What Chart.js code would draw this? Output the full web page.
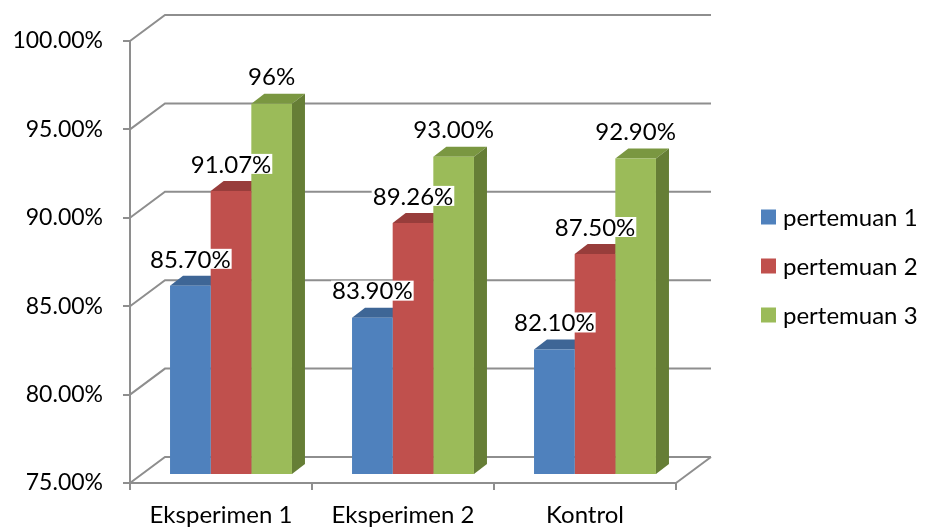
<!DOCTYPE html>
<html>
<head>
<meta charset="utf-8">
<script src="https://cdn.jsdelivr.net/npm/chart.js@4"></script>
<style>
  html, body { margin: 0; padding: 0; background: #ffffff; }
  canvas { display: block; }
</style>
</head>
<body>
<canvas id="c" width="925" height="529"></canvas>
<script>
// ---- data ----
const categories = ['Eksperimen 1', 'Eksperimen 2', 'Kontrol'];
const seriesNames = ['pertemuan 1', 'pertemuan 2', 'pertemuan 3'];
const pertemuan1 = [85.70, 83.90, 82.10];
const pertemuan2 = [91.07, 89.26, 87.50];
const pertemuan3 = [96.00, 93.00, 92.90];
const valueLabels1 = ['85.70%', '83.90%', '82.10%'];
const valueLabels2 = ['91.07%', '89.26%', '87.50%'];
const valueLabels3 = ['96%', '93.00%', '92.90%'];
const yTickValues = [75, 80, 85, 90, 95, 100];

// ---- styling ----
const FONT = 'Lato, "Open Sans", sans-serif';
const FONT_SIZE = 23;
const LABEL_SIZE = 24;
const GRID = '#8e8e8e';
const WALL = { x: 35, y: -26 };   // back wall offset
const BAR_SHIFT = { x: 10, y: -8 }; // bars sit a little inside the floor
const BAR_DEPTH = { x: 13, y: -10 };

const seriesStyle = [
  { front: '#4f81bd', top: '#3e6696', side: '#34557e' },
  { front: '#c0504d', top: '#983d3b', side: '#7f3331' },
  { front: '#9bbb59', top: '#7a9741', side: '#667e36' }
];
const seriesValues = [pertemuan1, pertemuan2, pertemuan3];
const seriesLabels = [valueLabels1, valueLabels2, valueLabels3];

const threeD = {
  id: 'threeD',
  beforeDatasetsDraw(chart) {
    const { ctx, chartArea: a, scales: { y } } = chart;
    // back wall + side wall gridlines
    ctx.save();
    ctx.strokeStyle = GRID;
    ctx.lineWidth = 2;
    yTickValues.forEach(v => {
      const py = y.getPixelForValue(v);
      ctx.beginPath();
      ctx.moveTo(a.left, py);
      ctx.lineTo(a.left + WALL.x, py + WALL.y);
      ctx.lineTo(a.right + WALL.x, py + WALL.y);
      ctx.stroke();
    });
    // floor right edge
    ctx.beginPath();
    ctx.moveTo(a.right, a.bottom);
    ctx.lineTo(a.right + WALL.x, a.bottom + WALL.y);
    ctx.stroke();
    ctx.restore();

    // top and side faces of each bar
    ctx.save();
    ctx.translate(BAR_SHIFT.x, BAR_SHIFT.y);
    chart.data.datasets.forEach((ds, i) => {
      const meta = chart.getDatasetMeta(i);
      meta.data.forEach(bar => {
        const p = bar.getProps(['x', 'y', 'base', 'width'], true);
        const l = p.x - p.width / 2, r = p.x + p.width / 2, t = p.y, b = p.base;
        ctx.fillStyle = seriesStyle[i].top;
        ctx.beginPath();
        ctx.moveTo(l, t);
        ctx.lineTo(l + BAR_DEPTH.x, t + BAR_DEPTH.y);
        ctx.lineTo(r + BAR_DEPTH.x, t + BAR_DEPTH.y);
        ctx.lineTo(r, t);
        ctx.closePath();
        ctx.fill();
        ctx.fillStyle = seriesStyle[i].side;
        ctx.beginPath();
        ctx.moveTo(r, t);
        ctx.lineTo(r + BAR_DEPTH.x, t + BAR_DEPTH.y);
        ctx.lineTo(r + BAR_DEPTH.x, b + BAR_DEPTH.y);
        ctx.lineTo(r, b);
        ctx.closePath();
        ctx.fill();
      });
    });
    ctx.restore();
    // shift the library-drawn front faces the same way
    ctx.save();
    ctx.translate(BAR_SHIFT.x, BAR_SHIFT.y);
  },
  afterDatasetsDraw(chart) {
    const { ctx } = chart;
    ctx.restore();
    // value labels
    ctx.save();
    ctx.font = LABEL_SIZE + 'px ' + FONT;
    ctx.textAlign = 'center';
    ctx.textBaseline = 'middle';
    chart.data.datasets.forEach((ds, i) => {
      const meta = chart.getDatasetMeta(i);
      meta.data.forEach((bar, j) => {
        const txt = seriesLabels[i][j];
        const cx = bar.x + BAR_SHIFT.x;
        const cy = bar.y + BAR_SHIFT.y - 27;
        const w = ctx.measureText(txt).width;
        ctx.fillStyle = '#ffffff';
        ctx.fillRect(cx - w / 2 - 1, cy - 10, w + 2, 20);
        ctx.fillStyle = '#000000';
        ctx.fillText(txt, cx, cy + 1);
      });
    });
    ctx.restore();
  },
  afterDraw(chart) {
    const { ctx } = chart;
    ctx.save();
    ctx.font = LABEL_SIZE + 'px ' + FONT;
    ctx.textAlign = 'left';
    ctx.textBaseline = 'middle';
    chart.data.datasets.forEach((ds, i) => {
      const cy = 217 + i * 49;
      ctx.fillStyle = seriesStyle[i].front;
      ctx.fillRect(761, cy - 7.5, 15, 15);
      ctx.fillStyle = '#000000';
      ctx.fillText(ds.label, 783, cy + 1);
    });
    ctx.restore();
  }
};

new Chart(document.getElementById('c'), {
  type: 'bar',
  data: {
    labels: categories,
    datasets: seriesNames.map((name, i) => ({
      label: name,
      data: seriesValues[i],
      base: yTickValues[0],
      backgroundColor: seriesStyle[i].front,
      borderWidth: 0,
      categoryPercentage: 0.67,
      barPercentage: 1.0,
      clip: false
    }))
  },
  options: {
    responsive: false,
    animation: false,
    layout: { padding: { top: 41, right: 249, left: 0, bottom: 0 } },
    plugins: { legend: { display: false }, tooltip: { enabled: false } },
    scales: {
      x: {
        afterFit(s) { s.height = 46; },
        grid: { drawOnChartArea: false, drawTicks: true, tickLength: 7, color: GRID, lineWidth: 2, offset: true },
        border: { display: true, color: GRID, width: 2 },
        ticks: { color: '#000000', font: { family: FONT, size: LABEL_SIZE }, padding: 11, maxRotation: 0 }
      },
      y: {
        min: 75,
        max: 100,
        afterFit(s) { s.width = 130; },
        afterBuildTicks(s) { s.ticks = yTickValues.map(v => ({ value: v })); },
        grid: { drawOnChartArea: false, drawTicks: true, tickLength: 7, color: GRID, lineWidth: 2 },
        border: { display: true, color: GRID, width: 2 },
        ticks: {
          color: '#000000',
          font: { family: FONT, size: FONT_SIZE },
          padding: 20,
          callback: v => Number(v).toFixed(2) + '%'
        }
      }
    }
  },
  plugins: [threeD]
});
</script>
</body>
</html>
